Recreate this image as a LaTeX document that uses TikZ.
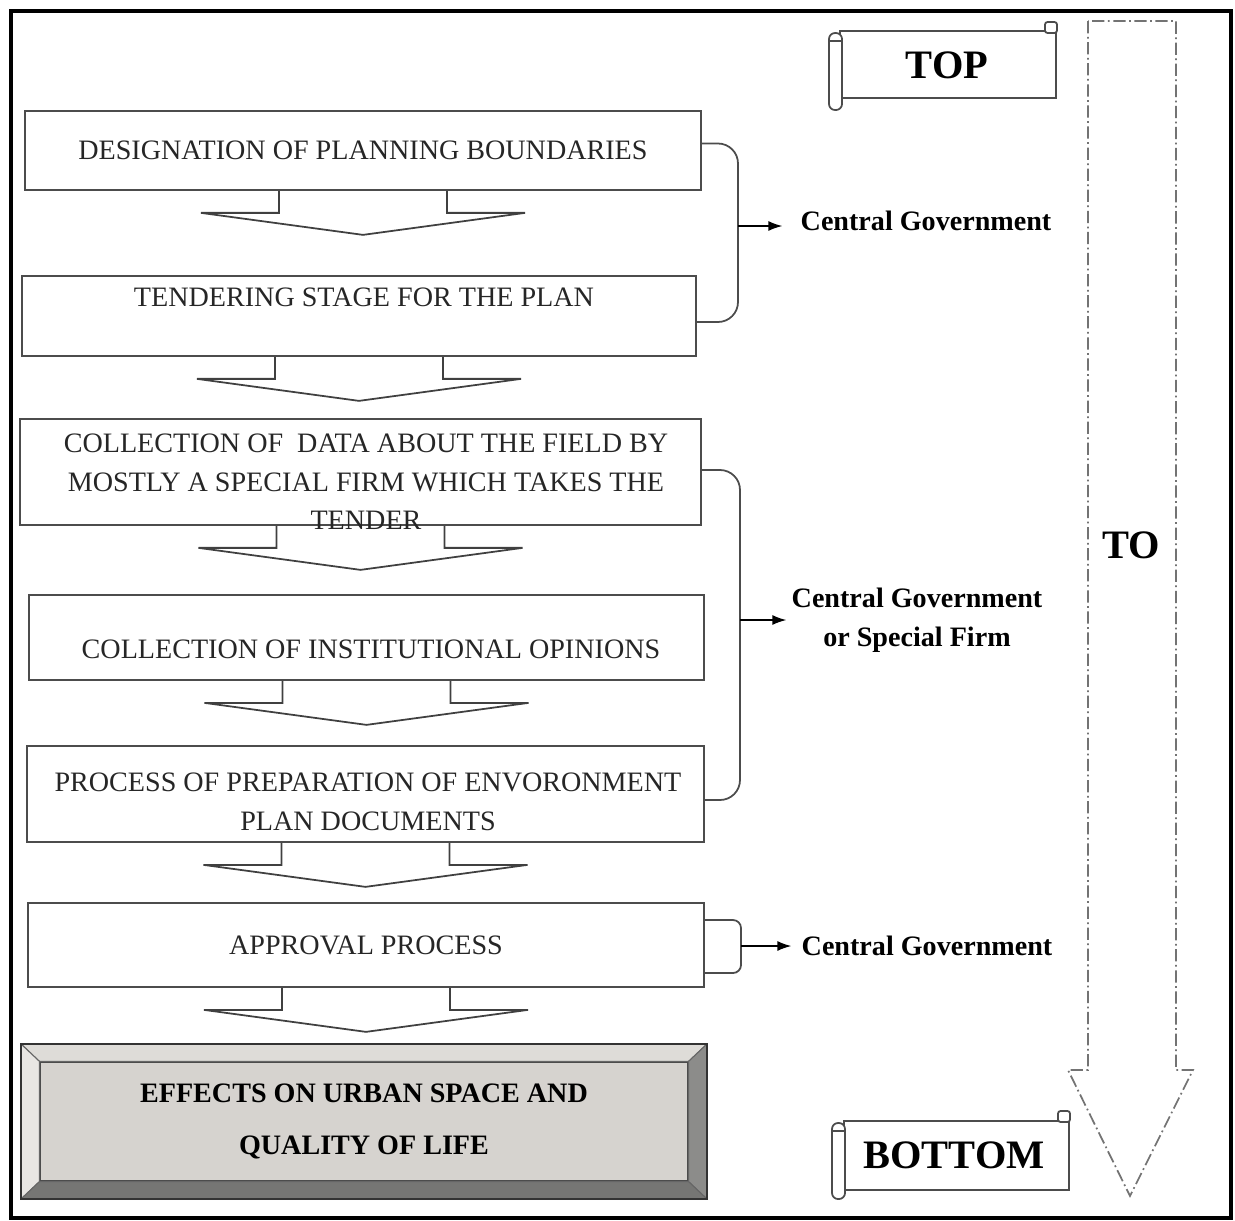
\documentclass[tikz,border=0pt]{standalone}
\usepackage{fontspec}
\setmainfont{Liberation Serif}
\usetikzlibrary{positioning}
\usetikzlibrary{calc}
\usetikzlibrary{arrows.meta}

\begin{document}
\begin{tikzpicture}[
        x=0.02cm, y=-0.02cm,
        stagebox/.style={draw=black!70, line width=1pt, inner sep=0pt, font=\fontsize{16}{22}\selectfont, text=black!85, align=center},
        stagetext/.style={font=\fontsize{16}{22}\selectfont, text=black!85, align=center, inner sep=0pt},
        chevron/.style={draw=black!75, line width=1pt, line join=miter},
        brace/.style={draw=black!70, line width=1pt, rounded corners=0.4cm},
        actorarrow/.style={draw=black, line width=0.8pt, -{Latex[length=0.28cm, width=0.2cm]}},
        actorlabel/.style={font=\bfseries\fontsize{16}{22}\selectfont, align=center, inner sep=0pt},
        scroll/.style={draw=black!70, line width=1pt, fill=white},
        scrolltext/.style={font=\bfseries\fontsize{23}{26}\selectfont, inner sep=0pt},
        dirarrow/.style={draw=black!55, line width=1pt, dash pattern=on 7pt off 2pt on 1pt off 2pt},
    ]
        \definecolor{facegray}{RGB}{214,211,207}
        \definecolor{bevlight}{RGB}{232,230,227}
        \definecolor{bevtop}{RGB}{222,220,216}
        \definecolor{bevright}{RGB}{140,140,138}
        \definecolor{bevbottom}{RGB}{118,118,116}

        \useasboundingbox (0,0) rectangle (1235,1221);
        \draw[line width=1.8pt] (11,11) rectangle (1231,1218);

        % Stages
        \node[stagebox, minimum width=13.52cm, minimum height=1.58cm] (b1) at (363,150.5) {DESIGNATION OF PLANNING BOUNDARIES};
        \node[stagebox, minimum width=13.48cm, minimum height=1.6cm] (b2) at (359,316) {};
        \node[stagetext] (t2) at (364,297) {TENDERING STAGE FOR THE PLAN};
        \node[stagebox, minimum width=13.62cm, minimum height=2.12cm] (b3) at (360.5,472) {};
        \node[stagetext] (t3) at (366,482) {COLLECTION OF~ DATA ABOUT THE FIELD BY\\MOSTLY A SPECIAL FIRM WHICH TAKES THE\\TENDER};
        \node[stagebox, minimum width=13.5cm, minimum height=1.7cm] (b4) at (366.5,637.5) {};
        \node[stagetext] (t4) at (371,649) {COLLECTION OF INSTITUTIONAL OPINIONS};
        \node[stagebox, minimum width=13.54cm, minimum height=1.92cm] (b5) at (365.5,794) {};
        \node[stagetext] (t5) at (368,802) {PROCESS OF PREPARATION OF ENVORONMENT\\PLAN DOCUMENTS};
        \node[stagebox, minimum width=13.52cm, minimum height=1.68cm] (b6) at (366,945) {APPROVAL PROCESS};

        % Result box with bevel
        \node[fill=facegray, draw=black!70, line width=0.8pt, minimum width=12.96cm, minimum height=2.38cm,
              font=\bfseries\fontsize{16}{30}\selectfont, align=center, inner sep=0pt] (b7) at (364,1121.5)
              {EFFECTS ON URBAN SPACE AND\\QUALITY OF LIFE};
        \coordinate (onw) at ($(b7.north west)+(-18,-17)$);
        \coordinate (one) at ($(b7.north east)+(18,-17)$);
        \coordinate (ose) at ($(b7.south east)+(18,17)$);
        \coordinate (osw) at ($(b7.south west)+(-18,17)$);
        \filldraw[fill=bevtop, draw=black!60, line width=0.6pt] (onw) -- (one) -- (b7.north east) -- (b7.north west) -- cycle;
        \filldraw[fill=bevlight, draw=black!60, line width=0.6pt] (onw) -- (b7.north west) -- (b7.south west) -- (osw) -- cycle;
        \filldraw[fill=bevright, draw=black!60, line width=0.6pt] (one) -- (ose) -- (b7.south east) -- (b7.north east) -- cycle;
        \filldraw[fill=bevbottom, draw=black!60, line width=0.6pt] (osw) -- (b7.south west) -- (b7.south east) -- (ose) -- cycle;
        \draw[black!80, line width=1.2pt] (onw) rectangle (ose);

        % Arrows between stages
        \foreach \b in {b1,b2,b3,b4,b5,b6} {
            \draw[chevron] (\b.south) ++(-84,0) -- ++(0,22) -- ++(-78,0) -- ++(162,22)
                -- ++(162,-22) -- ++(-78,0) -- ++(0,-22);
        }

        % Responsible actors
        \coordinate (j1) at (738,226);
        \coordinate (j2) at (740,620);
        \coordinate (j3) at (741,946);
        \node[actorlabel] (cg1) at (926,221) {Central Government};
        \node[actorlabel] (cg2) at (917,620) {Central Government\\or Special Firm};
        \node[actorlabel] (cg3) at (927,946) {Central Government};

        \draw[brace] ($(b1.east)+(0,-7)$) -| (j1) |- ($(b2.east)+(0,6)$);
        \draw[brace] ($(b3.east)+(0,-2)$) -| (j2) |- ($(b5.east)+(0,6)$);
        \draw[brace, rounded corners=0.16cm] ($(b6.east)+(0,-25)$) -| (j3) |- ($(b6.east)+(0,28)$);
        \draw[actorarrow, shorten >=0.36cm] (j1) -- (j1 -| cg1.west);
        \draw[actorarrow, shorten >=0.1cm] (j2) -- (j2 -| cg2.west);
        \draw[actorarrow, shorten >=0.2cm] (j3) -- (j3 -| cg3.west);

        % Top to bottom
        \draw[dirarrow] (1088,21) -- (1088,1070) -- (1068,1070) -- (1130,1196)
            -- (1193,1070) -- (1176,1070) -- (1176,21) -- cycle;
        \node[scrolltext] (to) at (1131,545) {TO};

        \draw[scroll] (840,31) rectangle (1056,98);
        \draw[scroll, rounded corners=0.05cm] (1045,22) rectangle (1057,33);
        \draw[scroll, rounded corners=0.12cm] (829,33) rectangle (842,110);
        \draw[black!70, line width=0.8pt] (829,41) -- (842,41);
        \node[scrolltext] (top) at (947,65) {TOP};

        \draw[scroll] (844,1121) rectangle (1069,1190);
        \draw[scroll, rounded corners=0.05cm] (1058,1111) rectangle (1070,1122);
        \draw[scroll, rounded corners=0.12cm] (832,1123) rectangle (845,1199);
        \draw[black!70, line width=0.8pt] (832,1131) -- (845,1131);
        \node[scrolltext] (bottom) at (954,1155) {BOTTOM};
    \end{tikzpicture}
\end{document}
